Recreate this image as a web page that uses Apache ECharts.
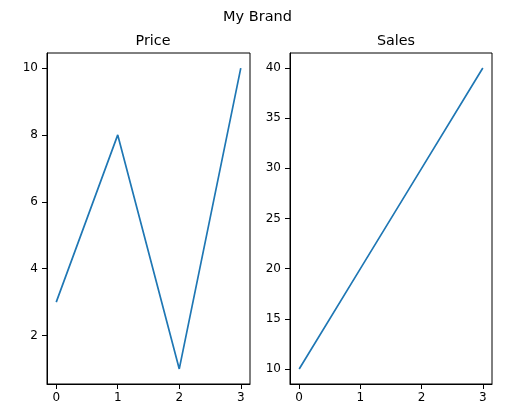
<!DOCTYPE html>
<html><head><meta charset="utf-8">
<script src="https://cdn.jsdelivr.net/npm/echarts@6/dist/echarts.min.js"></script>
<style>html,body{margin:0;padding:0;background:#fff}#c{width:515px;height:412px}</style>
</head><body><div id="c"></div>
<script>
const xValues = [0, 1, 2, 3];
const priceValues = [3, 8, 1, 10];
const salesValues = [10, 20, 30, 40];
const xTicks = [0, 1, 2, 3];
const priceTicks = [2, 4, 6, 8, 10];
const salesTicks = [10, 15, 20, 25, 30, 35, 40];

const font = 'DejaVu Sans';
function xAxis(idx) {
  return {
    type: 'value', gridIndex: idx, min: -0.15, max: 3.15, position: 'bottom',
    axisLine: {show: true, onZero: false, lineStyle: {color: '#000', width: 1}},
    splitLine: {show: false},
    axisTick: {show: true, inside: false, length: 5, customValues: xTicks, lineStyle: {color: '#000', width: 1}},
    axisLabel: {customValues: xTicks, color: '#000', fontFamily: font, fontSize: 12, margin: 8}
  };
}
function yAxis(idx, min, max, ticks) {
  return {
    type: 'value', gridIndex: idx, min: min, max: max, position: 'left',
    axisLine: {show: true, onZero: false, lineStyle: {color: '#000', width: 1}},
    splitLine: {show: false},
    axisTick: {show: true, inside: false, length: 5, customValues: ticks, lineStyle: {color: '#000', width: 1}},
    axisLabel: {customValues: ticks, color: '#000', fontFamily: font, fontSize: 12, margin: 9}
  };
}
const chart = echarts.init(document.getElementById('c'), null, {renderer: 'canvas'});
chart.setOption({
  animation: false,
  backgroundColor: '#fff',
  title: [
    {text: 'My Brand', left: 'center', top: 5, textStyle: {fontFamily: font, fontSize: 14.5, fontWeight: 'normal', color: '#000'}},
    {text: 'Price', left: 148, textAlign: 'center', top: 29, textStyle: {fontFamily: font, fontSize: 14.3, fontWeight: 'normal', color: '#000'}},
    {text: 'Sales', left: 391, textAlign: 'center', top: 29, textStyle: {fontFamily: font, fontSize: 14.3, fontWeight: 'normal', color: '#000'}}
  ],
  grid: [
    {left: 47, top: 53, width: 203, height: 331, show: true, borderColor: '#000', borderWidth: 1, backgroundColor: 'transparent'},
    {left: 290, top: 53, width: 202, height: 331, show: true, borderColor: '#000', borderWidth: 1, backgroundColor: 'transparent'}
  ],
  xAxis: [xAxis(0), xAxis(1)],
  yAxis: [yAxis(0, 0.55, 10.45, priceTicks), yAxis(1, 8.5, 41.5, salesTicks)],
  series: [
    {type: 'line', xAxisIndex: 0, yAxisIndex: 0, data: xValues.map((x, i) => [x, priceValues[i]]), showSymbol: false, lineStyle: {color: '#1f77b4', width: 1.7}, itemStyle: {color: '#1f77b4'}},
    {type: 'line', xAxisIndex: 1, yAxisIndex: 1, data: xValues.map((x, i) => [x, salesValues[i]]), showSymbol: false, lineStyle: {color: '#1f77b4', width: 1.7}, itemStyle: {color: '#1f77b4'}}
  ]
});
</script></body></html>
